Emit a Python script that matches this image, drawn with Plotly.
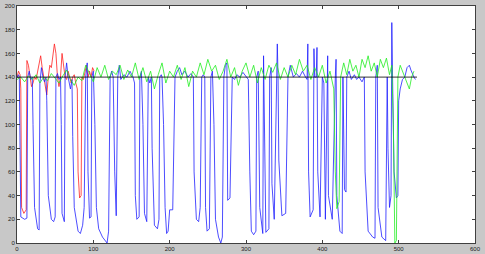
import plotly.graph_objects as go

# ---- data ----
red_x = [0, 2, 4, 5, 6, 9, 12, 13, 15, 17, 19, 21, 23, 25, 27, 29, 31, 33, 35, 37, 39, 41, 43, 45, 47, 49,
         51, 53, 55, 57, 59, 61, 63, 65, 67, 69, 71, 73, 75, 77, 79, 80, 82, 84, 85, 87, 89, 91, 93, 95, 97, 99, 101]
red_y = [140, 145, 142, 130, 30, 25, 28, 154, 150, 140, 132, 135, 140, 138, 145, 150, 158, 148, 140, 130, 125, 140,
         150, 148, 160, 168, 160, 140, 132, 140, 160, 150, 140, 138, 145, 140, 135, 140, 142, 135, 130, 60, 38, 40,
         140, 138, 145, 150, 140, 145, 140, 148, 145]

green_x = [0, 5, 10, 15, 20, 25, 30, 35, 40, 45, 50, 55, 60, 65, 70, 75, 80, 85, 90, 95, 100, 105, 110, 115, 120,
           125, 130, 135, 140, 145, 150, 155, 160, 165, 170, 175, 180, 185, 190, 195, 200, 205, 210, 215, 220, 225,
           230, 235, 240, 245, 250, 255, 260, 265, 270, 275, 280, 285, 290, 295, 300, 305, 310, 315, 320, 325, 330,
           335, 340, 345, 350, 355, 360, 365, 370, 375, 380, 385, 390, 395, 400, 405, 410, 415, 417, 419, 422, 424,
           428, 432, 436, 440, 444, 448, 452, 456, 460, 464, 468, 472, 476, 480, 484, 488, 491, 493, 495, 497, 499,
           502, 505, 508, 511, 514, 517, 520]
green_y = [138, 140, 136, 141, 138, 142, 135, 140, 137, 143, 139, 135, 141, 146, 138, 133, 140, 137, 150, 143, 136,
           148, 140, 150, 138, 145, 142, 150, 138, 146, 140, 152, 138, 148, 136, 145, 130, 142, 152, 135, 145, 140,
           150, 138, 148, 132, 145, 140, 152, 142, 155, 145, 150, 138, 145, 155, 140, 148, 133, 145, 152, 140, 150,
           135, 148, 138, 150, 144, 152, 138, 148, 140, 150, 142, 155, 145, 150, 138, 148, 140, 150, 135, 145, 130,
           60, 29, 35, 140, 152, 142, 155, 145, 150, 140, 155, 148, 158, 145, 152, 140, 155, 148, 156, 142, 150, 100,
           0, 2, 140, 150, 145, 140, 135, 130, 140, 145]

blue_x = [0, 2, 3, 4, 5, 10, 13, 14, 16, 18, 20, 21, 23, 27, 29, 30, 32, 34, 36, 38, 39, 41, 45, 48, 50, 51, 53, 55,
          57, 58, 59, 62, 63, 65, 67, 70, 72, 73, 75, 80, 83, 86, 88, 90, 92, 93, 95, 97, 98, 100, 102, 104, 107,
          112, 116, 118, 120, 122, 124, 126, 128, 130, 132, 134, 136, 140, 144, 148, 152, 154, 155, 157, 160, 161,
          163, 165, 167, 170, 172, 174, 176, 177, 180, 184, 186, 187, 189, 190, 192, 194, 196, 198, 200, 204, 207,
          210, 213, 216, 220, 224, 228, 231, 232, 235, 238, 240, 242, 244, 246, 247, 249, 252, 254, 256, 258, 260,
          264, 267, 269, 271, 273, 275, 276, 279, 282, 285, 288, 292, 296, 300, 303, 305, 307, 310, 313, 314, 316,
          318, 322, 323, 326, 330, 331, 333, 334, 337, 340, 341, 342, 343, 347, 352, 355, 358, 362, 366, 370, 374,
          378, 380, 381, 382, 384, 388, 389, 390, 392, 393, 394, 397, 400, 402, 404, 406, 407, 408, 413, 417, 418,
          419, 423, 426, 427, 429, 431, 432, 435, 438, 442, 445, 448, 452, 455, 456, 460, 466, 469, 470, 472, 473,
          478, 483, 485, 486, 488, 490, 491, 492, 494, 497, 499, 500, 502, 505, 508, 511, 514, 516, 518, 520, 522]
blue_y = [140, 142, 140, 60, 22, 20, 21, 140, 145, 138, 140, 100, 30, 12, 11, 135, 148, 140, 136, 140, 120, 40, 20,
          18, 22, 140, 143, 138, 140, 100, 25, 18, 140, 152, 140, 130, 138, 90, 30, 10, 8, 15, 30, 140, 152, 60, 21,
          22, 140, 145, 100, 30, 12, 5, 2, 0, 10, 140, 145, 140, 60, 23, 140, 150, 138, 142, 140, 145, 140, 135, 40,
          20, 22, 140, 145, 100, 25, 18, 140, 135, 140, 80, 15, 12, 20, 140, 142, 140, 100, 30, 8, 10, 28, 28, 140,
          145, 148, 142, 145, 140, 143, 140, 60, 20, 18, 30, 140, 142, 140, 30, 10, 12, 140, 145, 100, 20, 5, 0, 5,
          140, 150, 152, 36, 38, 140, 138, 142, 140, 144, 140, 138, 60, 10, 7, 10, 140, 145, 30, 8, 158, 9, 12, 140,
          148, 50, 20, 140, 168, 140, 70, 23, 25, 140, 150, 140, 143, 140, 145, 140, 138, 168, 60, 22, 28, 164, 140,
          140, 165, 60, 22, 140, 135, 20, 140, 158, 40, 20, 140, 155, 40, 10, 8, 140, 45, 43, 140, 145, 138, 142,
          138, 140, 136, 140, 60, 10, 5, 4, 140, 150, 30, 5, 2, 140, 80, 30, 40, 186, 140, 60, 38, 40, 120, 130,
          138, 140, 148, 150, 146, 142, 140, 138]

ref_x = [0, 524]
ref_y = [140, 140]

x_ticks = [0, 100, 200, 300, 400, 500, 600]
y_ticks = [0, 20, 40, 60, 80, 100, 120, 140, 160, 180, 200]

fig = go.Figure()
fig.add_trace(go.Scatter(x=red_x, y=red_y, mode="lines", line=dict(color="#ff2020", width=0.8)))
fig.add_trace(go.Scatter(x=blue_x, y=blue_y, mode="lines", line=dict(color="#2020ff", width=0.8)))
fig.add_trace(go.Scatter(x=green_x, y=green_y, mode="lines", line=dict(color="#20ee20", width=0.8)))
fig.add_trace(go.Scatter(x=ref_x, y=ref_y, mode="lines", line=dict(color="#000000", width=0.8)))

axis_common = dict(showgrid=False, zeroline=False, showline=True, linecolor="#404040", linewidth=1,
                   ticks="inside", ticklen=3, tickcolor="#404040", mirror="allticks", automargin=False,
                   tickfont=dict(family="Liberation Sans, Arial", size=6, color="#202020"))
fig.update_xaxes(range=[0, 600], tickvals=x_ticks, ticktext=[str(v) for v in x_ticks], **axis_common)
fig.update_yaxes(range=[0, 200], tickvals=y_ticks, ticktext=[str(v) for v in y_ticks], **axis_common)

fig.update_layout(width=485, height=254, showlegend=False,
                  margin=dict(l=17, r=10, t=6, b=11, autoexpand=False),
                  paper_bgcolor="#c8c8c8", plot_bgcolor="#ffffff")
fig.write_html("out.html", config={"displayModeBar": False},
               post_script="document.body.style.margin='0px';document.body.style.overflow='hidden';")
